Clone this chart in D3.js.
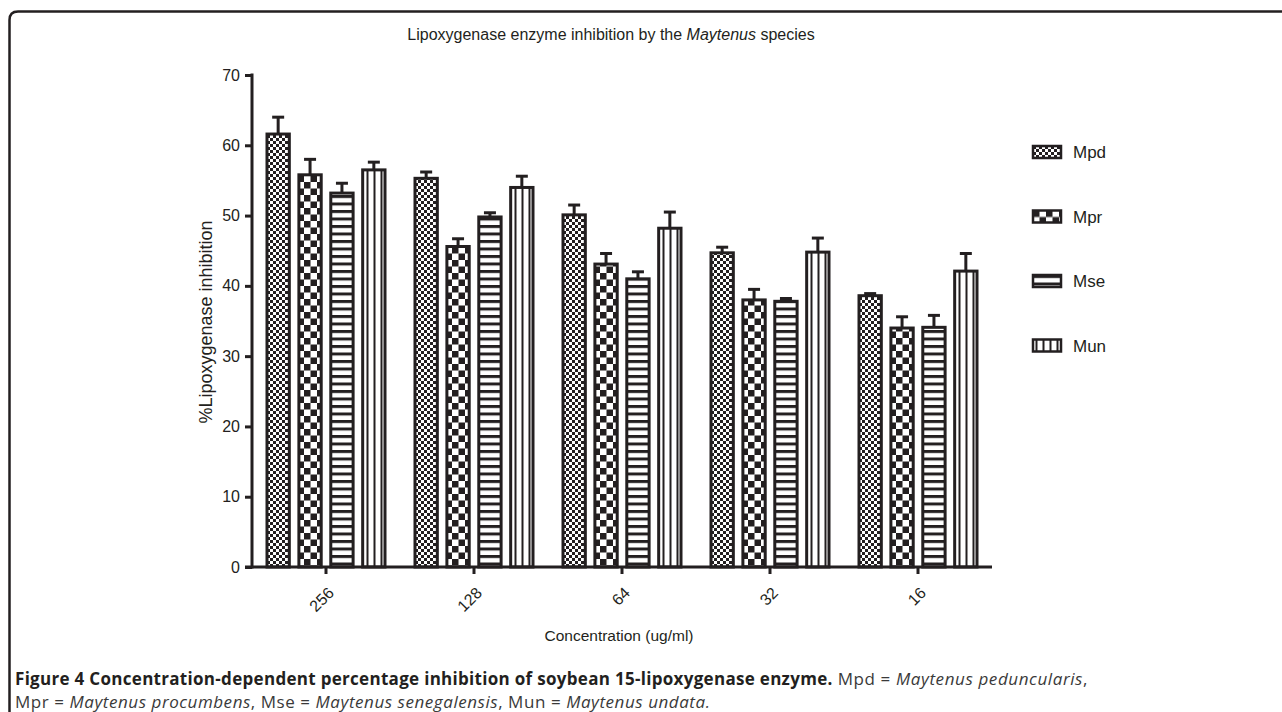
<!DOCTYPE html>
<html><head><meta charset="utf-8">
<script src="https://cdn.jsdelivr.net/npm/d3@7/dist/d3.min.js"></script>
<style>body{margin:0;background:#fff}svg{display:block}</style>
</head><body>
<svg id="chart" width="1282" height="712"></svg>
<script>
const categories = ["256","128","64","32","16"];
const seriesNames = ["Mpd","Mpr","Mse","Mun"];
const mpd = [61.6, 55.3, 50.1, 44.7, 38.6];
const mpdErr = [2.4, 0.9, 1.4, 0.8, 0.3];
const mpr = [55.8, 45.6, 43.1, 38.0, 34.0];
const mprErr = [2.2, 1.1, 1.5, 1.5, 1.6];
const mse = [53.2, 49.8, 41.0, 37.8, 34.1];
const mseErr = [1.4, 0.6, 1.0, 0.4, 1.7];
const mun = [56.5, 54.0, 48.2, 44.8, 42.1];
const munErr = [1.1, 1.6, 2.3, 2.0, 2.5];
const yTicks = [0,10,20,30,40,50,60,70];

const values = [mpd, mpr, mse, mun];
const errs = [mpdErr, mprErr, mseErr, munErr];

const svg = d3.select("#chart");
const defs = svg.append("defs");
const font = "'Liberation Sans', Arial, sans-serif";

function pat(id, w, h, draw){
  const p = defs.append("pattern").attr("id", id).attr("patternUnits","userSpaceOnUse")
    .attr("width", w).attr("height", h);
  p.append("rect").attr("width", w).attr("height", h).attr("fill","#fff");
  draw(p);
}
pat("p-Mpd", 6, 6, p => {
  p.append("rect").attr("x",0).attr("y",0).attr("width",3).attr("height",3).attr("fill","#231f20");
  p.append("rect").attr("x",3).attr("y",3).attr("width",3).attr("height",3).attr("fill","#231f20");
});
pat("p-Mpr", 13, 13, p => {
  p.append("rect").attr("x",0).attr("y",0).attr("width",6.5).attr("height",6.5).attr("fill","#231f20");
  p.append("rect").attr("x",6.5).attr("y",6.5).attr("width",6.5).attr("height",6.5).attr("fill","#231f20");
});
pat("p-Mse", 8, 7.5, p => {
  p.append("rect").attr("x",0).attr("y",0).attr("width",8).attr("height",3).attr("fill","#231f20");
});
pat("p-Mun", 7, 8, p => {
  p.append("rect").attr("x",2.5).attr("y",0).attr("width",2).attr("height",8).attr("fill","#231f20");
});

svg.append("path")
  .attr("d", "M1282,11.5 L18,11.5 Q9.5,11.5 9.5,20 L9.5,712")
  .attr("fill","none").attr("stroke","#231f20").attr("stroke-width",2.5);

const x0 = d3.scaleBand().domain(categories).range([252, 992]).paddingInner(0).paddingOuter(0);
const x1 = d3.scaleBand().domain(seriesNames).range([15, 133]).paddingInner(0.3).paddingOuter(0);
const y = d3.scaleLinear().domain([0, 70]).range([567, 75]);

const ink = "#231f20";

const groups = svg.append("g").selectAll("g").data(categories).join("g")
  .attr("transform", d => `translate(${x0(d)},0)`);

groups.each(function(cat, ci){
  const g = d3.select(this);
  seriesNames.forEach((s, si) => {
    const v = values[si][ci], e = errs[si][ci];
    const bx = x1(s), bw = x1.bandwidth();
    const cx = bx + bw/2;
    g.append("line").attr("x1",cx).attr("x2",cx).attr("y1",y(v)).attr("y2",y(v+e))
      .attr("stroke",ink).attr("stroke-width",3);
    g.append("line").attr("x1",cx-6).attr("x2",cx+6).attr("y1",y(v+e)).attr("y2",y(v+e))
      .attr("stroke",ink).attr("stroke-width",3);
    g.append("rect").attr("x",bx).attr("y",y(v)).attr("width",bw).attr("height",y(0)-y(v))
      .attr("fill",`url(#p-${s})`).attr("stroke",ink).attr("stroke-width",3);
  });
});

const yAxis = svg.append("g").attr("transform","translate(252,0)")
  .call(d3.axisLeft(y).tickValues(yTicks).tickSize(7).tickPadding(5).tickFormat(d3.format("d")));
yAxis.select(".domain").attr("d","M0,73.5V568.5").attr("stroke",ink).attr("stroke-width",3);
yAxis.selectAll(".tick line").attr("stroke",ink).attr("stroke-width",3);
yAxis.selectAll(".tick text").attr("font-family",font).attr("font-size",16).attr("fill",ink);

const xAxis = svg.append("g").attr("transform","translate(0,567)")
  .call(d3.axisBottom(x0).tickSize(7).tickSizeOuter(0));
xAxis.select(".domain").attr("d","M245,0H992").attr("stroke",ink).attr("stroke-width",3);
xAxis.selectAll(".tick line").attr("stroke",ink).attr("stroke-width",3);
xAxis.selectAll(".tick text")
  .attr("font-family",font).attr("font-size",16).attr("fill",ink)
  .attr("text-anchor","end").attr("dy",0).attr("y",0)
  .attr("transform","translate(6,24) rotate(-45)")
  .attr("dominant-baseline","middle");

svg.append("text").attr("x",619).attr("y",641).attr("text-anchor","middle")
  .attr("font-family",font).attr("font-size",15.5).attr("fill",ink).text("Concentration (ug/ml)");
svg.append("text").attr("transform","translate(212,322) rotate(-90)").attr("text-anchor","middle")
  .attr("font-family",font).attr("font-size",18).attr("fill",ink).text("%Lipoxygenase inhibition");

const title = svg.append("text").attr("x",611).attr("y",40).attr("text-anchor","middle")
  .attr("font-family",font).attr("font-size",16).attr("fill",ink);
title.append("tspan").text("Lipoxygenase enzyme inhibition by the ");
title.append("tspan").attr("font-style","italic").text("Maytenus");
title.append("tspan").text(" species");

const legend = svg.append("g").selectAll("g").data(seriesNames).join("g")
  .attr("transform", (d,i) => `translate(1033,${146 + i*64.5})`);
legend.append("rect").attr("width",28).attr("height",12)
  .attr("fill", d => `url(#p-${d})`).attr("stroke",ink).attr("stroke-width",2.5);
legend.append("text").attr("x",40).attr("y",12).attr("font-family",font).attr("font-size",17)
  .attr("fill",ink).text(d => d);

const capFont = "'Open Sans', 'Noto Sans', sans-serif";
const grey = "#3a3a3a";
const cap1 = svg.append("text").attr("x",15).attr("y",685).attr("font-family",capFont)
  .attr("font-size",17).attr("fill",ink);
cap1.append("tspan").attr("font-weight","bold").attr("letter-spacing",0.3).attr("fill",ink)
  .text("Figure 4 Concentration-dependent percentage inhibition of soybean 15-lipoxygenase enzyme.");
cap1.append("tspan").attr("fill",grey).attr("letter-spacing",0.6).text(" Mpd = ");
cap1.append("tspan").attr("fill",grey).attr("letter-spacing",0.6).attr("font-style","italic").text("Maytenus peduncularis");
cap1.append("tspan").attr("fill",grey).text(",");
const cap2 = svg.append("text").attr("x",15).attr("y",708).attr("font-family",capFont)
  .attr("font-size",17).attr("fill",grey).attr("letter-spacing",0.55);
cap2.append("tspan").text("Mpr = ");
cap2.append("tspan").attr("font-style","italic").text("Maytenus procumbens");
cap2.append("tspan").text(", Mse = ");
cap2.append("tspan").attr("font-style","italic").text("Maytenus senegalensis");
cap2.append("tspan").text(", Mun = ");
cap2.append("tspan").attr("font-style","italic").text("Maytenus undata.");
</script>
</body></html>
